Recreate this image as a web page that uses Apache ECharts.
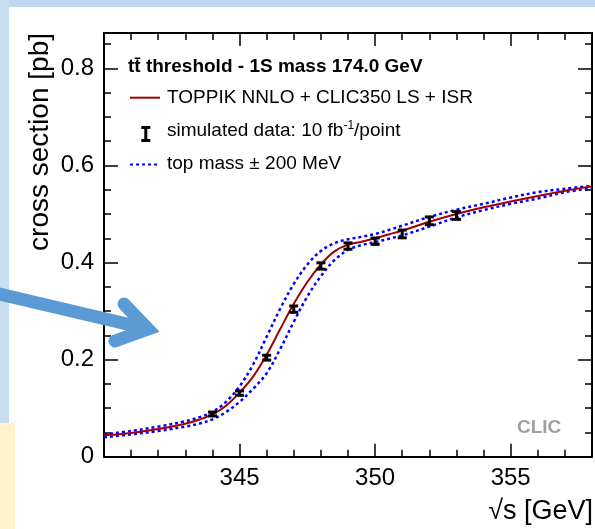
<!DOCTYPE html>
<html><head><meta charset="utf-8">
<script src="https://cdn.jsdelivr.net/npm/echarts@6/dist/echarts.min.js"></script>
<style>html,body{margin:0;padding:0;background:#fff}#c{width:595px;height:529px}</style>
</head><body><div id="c"></div>
<script>
// ---- data ----
const xLabelTicks = [345, 350, 355];
const yLabelTicks = [0, 0.2, 0.4, 0.6, 0.8];
const dataX   = [344, 345, 346, 347, 348, 349, 350, 351, 352, 353];
const dataY   = [0.088, 0.131, 0.204, 0.304, 0.393, 0.434, 0.444, 0.459, 0.486, 0.497];
const dataErr = [0.004, 0.0045, 0.005, 0.0065, 0.0065, 0.0065, 0.0065, 0.008, 0.008, 0.008];
const curveX  = [340, 341, 342, 343, 343.5, 344, 344.5, 345, 345.5, 346, 346.5, 347, 347.5, 348, 348.5, 349, 349.5, 350, 350.5, 351, 352, 353, 354, 355, 356, 357, 358];
const nominalY   = [0.044, 0.049, 0.057, 0.068, 0.076, 0.087, 0.105, 0.132, 0.165, 0.210, 0.263, 0.315, 0.360, 0.396, 0.423, 0.437, 0.443, 0.450, 0.458, 0.466, 0.484, 0.500, 0.514, 0.526, 0.537, 0.548, 0.557];
const massMinusY = [0.046, 0.053, 0.062, 0.073, 0.081, 0.092, 0.113, 0.145, 0.190, 0.247, 0.305, 0.356, 0.396, 0.424, 0.440, 0.448, 0.453, 0.459, 0.467, 0.476, 0.494, 0.509, 0.521, 0.534, 0.545, 0.552, 0.558];
const massPlusY  = [0.040, 0.046, 0.053, 0.062, 0.068, 0.077, 0.092, 0.113, 0.140, 0.172, 0.222, 0.278, 0.330, 0.372, 0.405, 0.426, 0.436, 0.442, 0.449, 0.456, 0.474, 0.493, 0.508, 0.521, 0.532, 0.545, 0.553];

const FONT = '"Liberation Sans", Arial, Helvetica, sans-serif';
const RED = '#a00000', BLUE = '#0000ff';

function xAxisCfg(pos, labels) {
  return {
    type: 'value', min: 340, max: 358, interval: 5, position: pos,
    axisLine: { show: true, onZero: false, lineStyle: { color: '#000', width: 2 } },
    axisTick: { show: true, inside: true, length: 13, lineStyle: { color: '#000', width: 1.5 } },
    minorTick: { show: true, splitNumber: 5, length: 7, lineStyle: { color: '#000', width: 1.5 } },
    axisLabel: { show: labels, fontSize: 24, fontFamily: FONT, color: '#000', margin: 10,
      formatter: v => xLabelTicks.includes(Math.round(v * 1000) / 1000) ? String(v) : '' },
    splitLine: { show: false }, minorSplitLine: { show: false }
  };
}
function yAxisCfg(pos, labels) {
  return {
    type: 'value', min: 0, max: 0.873, interval: 0.2, position: pos,
    axisLine: { show: true, onZero: false, lineStyle: { color: '#000', width: 2 } },
    axisTick: { show: true, inside: true, length: 14, lineStyle: { color: '#000', width: 1.5 } },
    minorTick: { show: true, splitNumber: 4, length: 7, lineStyle: { color: '#000', width: 1.5 } },
    axisLabel: { show: labels, fontSize: 24, fontFamily: FONT, color: '#000', margin: 10,
      formatter: v => { const r = Math.round(v * 1000) / 1000; return yLabelTicks.includes(r) ? String(r) : ''; } },
    splitLine: { show: false }, minorSplitLine: { show: false }
  };
}

const chart = echarts.init(document.getElementById('c'), null, { renderer: 'canvas' });
const option = {
  animation: false,
  backgroundColor: '#fff',
  grid: { left: 104, top: 33, width: 488.5, height: 423.7, containLabel: false },
  xAxis: [xAxisCfg('bottom', true), xAxisCfg('top', false)],
  yAxis: [yAxisCfg('left', true), yAxisCfg('right', false)],
  series: [
    { type: 'line', name: 'top mass -200 MeV', data: curveX.map((x, i) => [x, massMinusY[i]]),
      smooth: 0.35, symbol: 'none', lineStyle: { color: BLUE, width: 2.5, type: [3, 3] }, z: 3 },
    { type: 'line', name: 'top mass +200 MeV', data: curveX.map((x, i) => [x, massPlusY[i]]),
      smooth: 0.35, symbol: 'none', lineStyle: { color: BLUE, width: 2.5, type: [3, 3] }, z: 3 },
    { type: 'line', name: 'TOPPIK', data: curveX.map((x, i) => [x, nominalY[i]]),
      smooth: 0.35, symbol: 'none', lineStyle: { color: RED, width: 2 }, z: 4 },
    { type: 'custom', name: 'data', z: 10,
      data: dataX.map((x, i) => [x, dataY[i], dataErr[i]]),
      renderItem: (params, api) => {
        const x = api.value(0), y = api.value(1), e = api.value(2);
        const p = api.coord([x, y + e]), q = api.coord([x, y - e]);
        const w = 4.5, st = { stroke: '#000', lineWidth: 3 };
        return { type: 'group', children: [
          { type: 'line', shape: { x1: p[0], y1: p[1], x2: q[0], y2: q[1] }, style: st },
          { type: 'line', shape: { x1: p[0] - w, y1: p[1], x2: p[0] + w, y2: p[1] }, style: st },
          { type: 'line', shape: { x1: q[0] - w, y1: q[1], x2: q[0] + w, y2: q[1] }, style: st }
        ]};
      }
    }
  ],
  graphic: [
    { type: 'rect', shape: { x: 0, y: 0, width: 595, height: 7 }, style: { fill: '#bdd7ee' }, z: 1 },
    { type: 'rect', shape: { x: 0, y: 0, width: 9, height: 423 }, style: { fill: '#c9ddf1' }, z: 1 },
    { type: 'rect', shape: { x: 0, y: 423, width: 15, height: 106 }, style: { fill: '#fff2cc' }, z: 1 },
    // axis titles
    { type: 'text', x: 40, y: 33, rotation: Math.PI / 2,
      style: { text: 'cross section [pb]', fontSize: 28, fontFamily: FONT, fill: '#000', align: 'right', verticalAlign: 'middle' } },
    { type: 'text', x: 593, y: 512,
      style: { text: '√s [GeV]', fontSize: 27, fontFamily: FONT, fill: '#000', align: 'right', verticalAlign: 'middle' } },
    // legend
    { type: 'text', x: 128, y: 67,
      style: { text: 'tt\u0304 threshold - 1S mass 174.0 GeV', fontSize: 19, fontWeight: 'bold', fontFamily: FONT, fill: '#000', verticalAlign: 'middle' } },
    { type: 'line', shape: { x1: 130, y1: 97.7, x2: 160, y2: 97.7 }, style: { stroke: RED, lineWidth: 2 } },
    { type: 'text', x: 167, y: 97.5,
      style: { text: 'TOPPIK NNLO + CLIC350 LS + ISR', fontSize: 19, fontFamily: FONT, fill: '#000', verticalAlign: 'middle' } },
    { type: 'group', children: [
      { type: 'line', shape: { x1: 145.8, y1: 127.5, x2: 145.8, y2: 140.5 }, style: { stroke: '#000', lineWidth: 3 } },
      { type: 'line', shape: { x1: 141.3, y1: 127.5, x2: 150.3, y2: 127.5 }, style: { stroke: '#000', lineWidth: 3 } },
      { type: 'line', shape: { x1: 141.3, y1: 140.5, x2: 150.3, y2: 140.5 }, style: { stroke: '#000', lineWidth: 3 } }
    ]},
    { type: 'text', x: 167, y: 131,
      style: { text: 'simulated data: 10 fb{sup|-1}/point', fontSize: 19, fontFamily: FONT, fill: '#000', verticalAlign: 'middle',
        rich: { sup: { fontSize: 12, fontFamily: FONT, fill: '#000', verticalAlign: 'top', lineHeight: 22 } } } },
    { type: 'line', shape: { x1: 130, y1: 164.5, x2: 160, y2: 164.5 }, style: { stroke: BLUE, lineWidth: 2, lineDash: [3, 3] } },
    { type: 'text', x: 167, y: 164,
      style: { text: 'top mass ± 200 MeV', fontSize: 19, fontFamily: FONT, fill: '#000', verticalAlign: 'middle' } },
    { type: 'text', x: 517, y: 428,
      style: { text: 'CLIC', fontSize: 19, fontWeight: 'bold', fontFamily: FONT, fill: '#a0a0a0', verticalAlign: 'middle' } },
    // arrow
    { type: 'polyline', z: 200, shape: { points: [[-5, 293], [146, 328.5]] },
      style: { stroke: '#5b9bd5', lineWidth: 13, fill: null, lineCap: 'butt' } },
    { type: 'polyline', z: 200, shape: { points: [[124, 304], [148, 329], [115, 341]] },
      style: { stroke: '#5b9bd5', lineWidth: 13, fill: null, lineCap: 'round', lineJoin: 'miter' } }
  ]
};
chart.setOption(option);
</script></body></html>
